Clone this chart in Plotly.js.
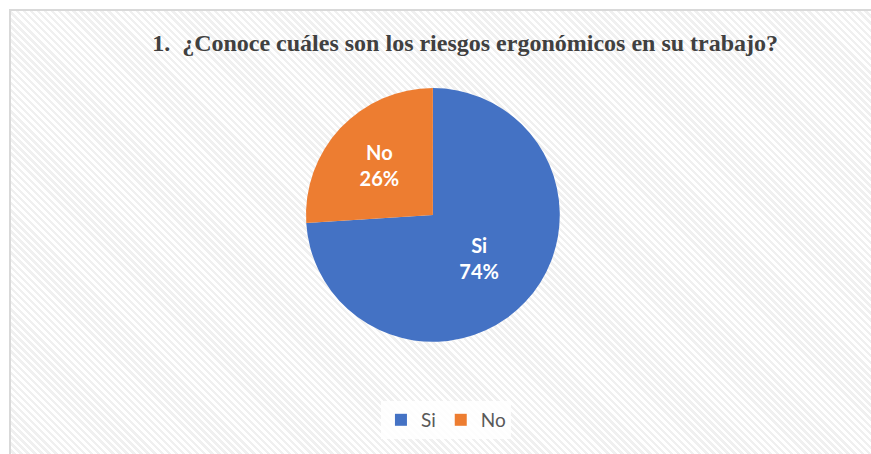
<!DOCTYPE html>
<html>
<head>
<meta charset="utf-8">
<script src="https://cdn.plot.ly/plotly-3.0.1.min.js"></script>
<style>
  html, body { margin: 0; padding: 0; background: #ffffff; }
  #frame {
    position: absolute; left: 9px; top: 9px; width: 862px; height: 445px;
    border-left: 2px solid #d9d9d9; border-top: 2px solid #d9d9d9;
    background: repeating-linear-gradient(45deg, #ffffff 0px, #ffffff 2.5px, #f0f0f0 2.5px, #f0f0f0 5px);
  }
  #chart { position: absolute; left: 0; top: 0; width: 871px; height: 454px; }
</style>
</head>
<body>
<div id="frame"></div>
<div id="chart"></div>
<script>
const categories = ["Si", "No"];
const percentages = [74, 26];
const colors = ["#4472C4", "#ED7D31"];
const titleText = "1.  ¿Conoce cuáles son los riesgos ergonómicos en su trabajo?";

const trace = {
  type: "pie",
  labels: categories,
  values: percentages,
  sort: false,
  direction: "clockwise",
  rotation: 0,
  marker: { colors: colors, line: { width: 0 } },
  textinfo: "label+percent",
  texttemplate: "%{label}<br>%{percent:.0%}",
  textposition: "inside",
  insidetextorientation: "horizontal",
  insidetextfont: { family: "Lato, 'Open Sans', sans-serif", size: 20, color: "#ffffff", weight: "bold" },
  hoverinfo: "none",
  domain: { x: [0, 0.994], y: [0.247, 0.806] }
};

const layout = {
  width: 871,
  height: 454,
  margin: { l: 0, r: 0, t: 0, b: 0 },
  paper_bgcolor: "rgba(0,0,0,0)",
  plot_bgcolor: "rgba(0,0,0,0)",
  title: {
    text: "<b>" + titleText + "</b>",
    x: 0.534, xanchor: "center",
    y: 0.907, yanchor: "middle",
    font: { family: "'Liberation Serif', 'Times New Roman', serif", size: 24, color: "#404040" }
  },
  showlegend: true,
  legend: {
    orientation: "h",
    x: 0.512, xanchor: "center",
    y: 0.075, yanchor: "middle",
    bgcolor: "rgba(255,255,255,0.85)",
    font: { family: "Lato, 'Open Sans', sans-serif", size: 19, color: "#595959" },
    itemclick: false
  }
};

Plotly.newPlot("chart", [trace], layout, { displayModeBar: false, staticPlot: true });
</script>
</body>
</html>
